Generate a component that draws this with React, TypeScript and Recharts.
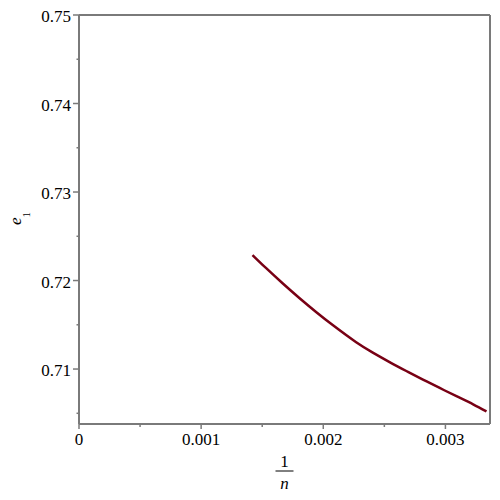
import React from "react";
import { LineChart, Line, XAxis, YAxis, Label, ReferenceLine } from "recharts";

const xValues = [
  0.0014204, 0.0015304, 0.0016667, 0.0018038, 0.0019409, 0.0020772, 0.0022693,
  0.0024056, 0.0025427, 0.0026798, 0.0028161, 0.0029532, 0.0030903, 0.0032266,
  0.0033366,
];
const yValues = [
  0.72288, 0.72142, 0.71969, 0.71803, 0.71645, 0.71497, 0.71303, 0.71186,
  0.71079, 0.70978, 0.70881, 0.70786, 0.70693, 0.70602, 0.70522,
];

const xMajorTicks = [0, 0.001, 0.002, 0.003];
const xMinorTicks = [0.0005, 0.0015, 0.0025];
const yMajorTicks = [0.71, 0.72, 0.73, 0.74, 0.75];
const yMinorTicks = [0.705, 0.715, 0.725, 0.735, 0.745];
const xLabels = ["0", "0.001", "0.002", "0.003"];
const yLabels = ["0.71", "0.72", "0.73", "0.74", "0.75"];

const xDomain = [0, 0.003365];
const yDomain = [0.70379, 0.75];

const data = xValues.map((x, i) => ({ x, y: yValues[i] }));

const FONT = "Liberation Serif, Times New Roman, DejaVu Serif, serif";
const AXIS = "#7a7a7a";
const textStyle = { fontFamily: FONT };

const XTick = (props: any) => {
  const { x, y, payload } = props;
  const idx = xMajorTicks.indexOf(payload.value);
  const major = idx >= 0;
  return (
    <g>
      <line x1={x} y1={y} x2={x} y2={y + (major ? 5 : 3)} stroke={AXIS} strokeWidth={1.5} />
      {major && (
        <text x={x} y={y + 21} textAnchor="middle" style={textStyle} fontSize={17} fill="#000">
          {xLabels[idx]}
        </text>
      )}
    </g>
  );
};

const YTick = (props: any) => {
  const { x, y, payload } = props;
  const idx = yMajorTicks.indexOf(payload.value);
  const major = idx >= 0;
  return (
    <g>
      <line x1={x - (major ? 6 : 2.5)} y1={y} x2={x} y2={y} stroke={AXIS} strokeWidth={1.5} />
      {major && (
        <text x={x - 8} y={y + 7} textAnchor="end" style={textStyle} fontSize={17} fill="#000">
          {yLabels[idx]}
        </text>
      )}
    </g>
  );
};

const XTitle = () => (
  <g>
    <text x={284.5} y={467} textAnchor="middle" style={textStyle} fontSize={17} fill="#000">
      1
    </text>
    <line x1={275.5} y1={471} x2={293.5} y2={471} stroke="#000" strokeWidth={1} />
    <text x={284.5} y={489} textAnchor="middle" style={textStyle} fontSize={17} fontStyle="italic" fill="#000">
      n
    </text>
  </g>
);

const YTitle = () => (
  <g transform="translate(21,225) rotate(-90)">
    <text x={0} y={0} style={textStyle} fontSize={17} fill="#000">
      <tspan fontStyle="italic">e</tspan>
      <tspan dy={9} fontSize={11}>1</tspan>
    </text>
  </g>
);

export default function App() {
  return (
    <div style={{ margin: -8, width: 500, height: 500 }}>
      <LineChart
        width={500}
        height={500}
        data={data}
        margin={{ top: 15, right: 10, left: 0, bottom: 0 }}
      >
        <XAxis
          dataKey="x"
          type="number"
          domain={xDomain}
          allowDataOverflow
          ticks={[...xMajorTicks, ...xMinorTicks]}
          interval={0}
          height={76}
          tickSize={0}
          tickMargin={0}
          tickLine={false}
          axisLine={{ stroke: AXIS, strokeWidth: 2 }}
          tick={<XTick />}
        >
          <Label content={<XTitle />} />
        </XAxis>
        <YAxis
          type="number"
          domain={yDomain}
          allowDataOverflow
          ticks={[...yMajorTicks, ...yMinorTicks]}
          interval={0}
          width={79}
          tickSize={0}
          tickMargin={0}
          tickLine={false}
          axisLine={{ stroke: AXIS, strokeWidth: 2 }}
          tick={<YTick />}
        >
          <Label content={<YTitle />} />
        </YAxis>
        <ReferenceLine y={yDomain[1]} stroke={AXIS} strokeWidth={2} />
        <ReferenceLine x={xDomain[1]} stroke={AXIS} strokeWidth={2} />
        <Line
          dataKey="y"
          type="natural"
          stroke="#780014"
          strokeWidth={2.5}
          dot={false}
          isAnimationActive={false}
        />
      </LineChart>
    </div>
  );
}
